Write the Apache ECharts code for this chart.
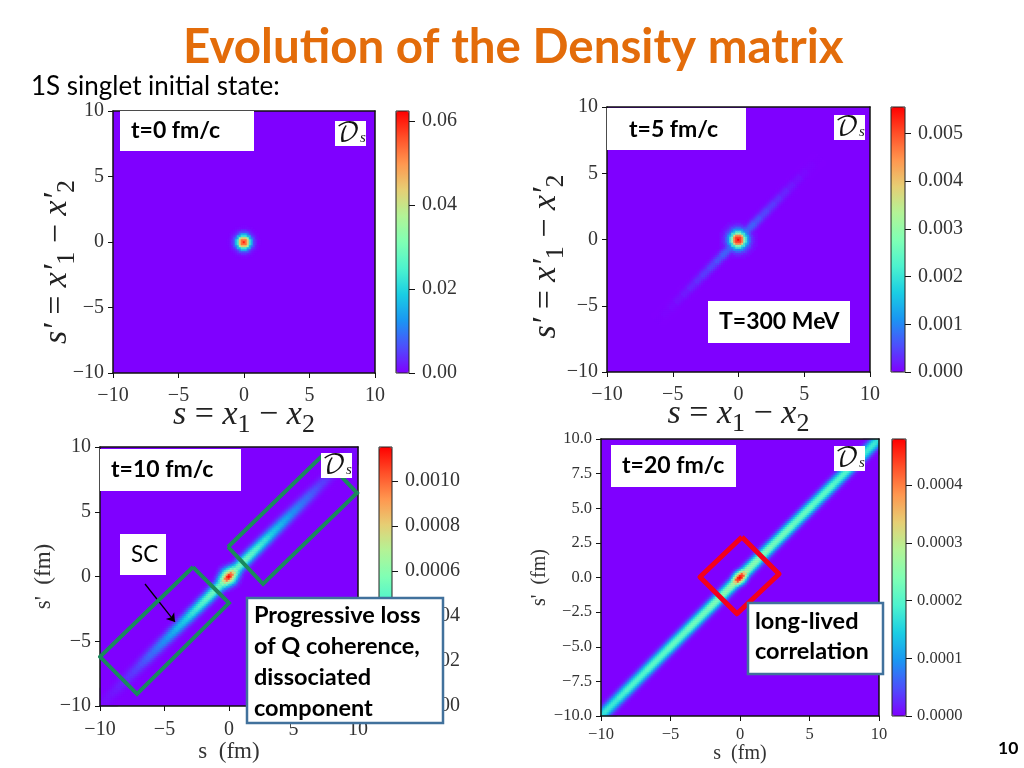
<!DOCTYPE html>
<html><head><meta charset="utf-8">
<style>html,body{margin:0;padding:0;background:#fff}#c{width:1024px;height:768px}</style>
<script src="https://cdn.jsdelivr.net/npm/echarts@6/dist/echarts.min.js"></script>
</head><body><div id="c"></div>
<script>
// ---- values ----
const rainbow = ['#8000ff','#4d4ffc','#1a96f2','#1acee3','#4df3ce','#80ffb4','#b3f396','#e6ce74','#ff964f','#ff4f28','#ff0000'];
const ticksA = [0,0.02,0.04,0.06];
const ticksB = [0,0.001,0.002,0.003,0.004,0.005];
const ticksC = [0,0.0002,0.0004,0.0006,0.0008,0.001];
const ticksD = [0,0.0001,0.0002,0.0003,0.0004];
const scaleMax = [0.0624,0.00555,0.00115,0.00048];
// radial profile of the central spot, one entry per 0.1 fm
const ringA = [.0600,.0585,.0535,.0440,.0330,.0230,.0155,.0100,.0056,.0031,.0016,.0006,.0002];
const ringB = [.00555,.00544,.00511,.00455,.00377,.00289,.00205,.00150,.00111,.00072,.00050,.00033,.00019,.00011,.00006];
// diagonal ridge height from |u|=0 outward
const ridgeB = [.0009,.00085,.00072,.0006,.0005,.00042,.00034,.00026,.00018,.00012,.00006,.00003,.00001,0,0,0,0,0,0,0,0];
const ridgeC = [.00050,.00051,.00052,.00053,.00053,.00053,.00052,.00050,.00048,.00046,.00044,.00042,.00039,.00036,.00034,.00032,.00030,.00028,.00026,.00024,.00022,.000205,.00019,.000175,.00016,.000145,.00013,.000115,.00010,.00009,.00008,.00007,.00006,.00005,.000045,.000037,.00003,.000025,.00002,.000015,.00001];
const ridgeD = [.00026,.00026,.00025,.00024,.00024,.00023,.00023,.00023,.00022,.00022,.00022,.00021,.00021,.00021,.00020,.00020,.00020,.00019,.00018,.00018,.00017];
// ridge fall-off, one entry per cell away from the diagonal
const acrossB = [1,.92,.7,.42,.2,.07,.02];
const acrossC = [1,.95,.8,.58,.36,.2,.09,.03,.01];
const acrossD = [1,.95,.8,.58,.36,.18,.07,.02];
// elongated centre: rows = cells along diagonal, columns = cells across it (fraction of the peak)
const coreC = [
 [1,.93,.75,.6,.47,.35,.25,.15,.08,.04,.02],
 [.88,.83,.68,.54,.42,.3,.2,.12,.06,.03,.01],
 [.68,.65,.55,.45,.34,.24,.15,.08,.04,.01,0],
 [.52,.5,.43,.35,.26,.17,.1,.05,.02,0,0],
 [.44,.42,.36,.28,.2,.12,.06,.02,0,0,0],
 [.42,.4,.33,.25,.16,.09,.04,.01,0,0,0],
 [.42,.39,.31,.22,.13,.06,.02,0,0,0,0]];
const coreD = [
 [1,.95,.75,.55,.38,.22,.1,.03],
 [.93,.88,.7,.5,.33,.18,.08,.02],
 [.72,.68,.55,.4,.25,.12,.05,.01],
 [.58,.55,.42,.28,.14,.06,.02,0],
 [.52,.49,.36,.2,.08,.03,0,0]];
const boxSC1 = [[-2.79,0.73],[0,-2.05],[-7.13,-9.07],[-10,-6.2],[-2.79,0.73]];
const boxSC2 = [[-0.08,2.28],[2.64,-0.58],[9.92,6.45],[7.2,9.3],[-0.08,2.28]];
const boxLong = [[0.14,2.92],[2.81,0.25],[-0.22,-2.62],[-2.88,0.04],[0.14,2.92]];
const arrowSC = [[-6.51,-0.58],[-4.19,-3.51]];

// ---- cell tables ----
function cells(N, ridge, across, ring, core, peak){
  const out=[], c=(N-1)/2, w=20/N;
  for(let i=0;i<N;i++)for(let j=0;j<N;j++){
    const a=Math.abs(i+j-2*c), k=Math.abs(i-j), m=Math.floor(a/2);
    let v=0;
    if(ridge && k<across.length){
      const idx=Math.round((a/2*w)/(10/(ridge.length-1)));
      if(idx<ridge.length) v=ridge[idx]*across[k];
    }
    if(ring){
      const r=Math.round(Math.hypot(i-c,j-c)*w/0.1);
      if(r<ring.length) v=Math.max(v,ring[r]);
    }
    if(core && m<core.length && k<core[m].length) v=Math.max(v,core[m][k]*peak);
    if(v>0) out.push([i,j,v]);
  }
  return out;
}
const dataA=cells(131,null,null,ringA,null,0);
const dataB=cells(131,ridgeB,acrossB,ringB,null,0);
const dataC=cells(129,ridgeC,acrossC,null,coreC,scaleMax[2]);
const dataD=cells(139,ridgeD,acrossD,null,coreD,scaleMax[3]);

const serif="'Liberation Serif',serif", sans="Lato,'Open Sans',sans-serif";
const mathRich=(f,b,lh)=>({
  i:{fontFamily:serif,fontStyle:'italic',fontSize:f,lineHeight:lh,verticalAlign:'top',color:'#222'},
  n:{fontFamily:serif,fontSize:f,lineHeight:lh,verticalAlign:'top',color:'#222'},
  b:{fontFamily:serif,fontSize:b,lineHeight:lh,verticalAlign:'bottom',color:'#222'}});
const nameMathX='{i|s}{n| = }{i|x}{b|1}{n| − }{i|x}{b|2}';
const nameMathY="{i|s′}{n| = }{i|x′}{b|1}{n| − }{i|x′}{b|2}";

const panels=[
 {g:[113,111,262,262],cb:[396,111,13,262],N:131,data:dataA,ticks:ticksA,dec:2,fs:20,xn:nameMathX,yn:nameMathY,math:true,xg:25,yg:33,yi:5,xm:13,cm:13,ypad:40},
 {g:[607,107,263,265],cb:[891,107,14,265],N:131,data:dataB,ticks:ticksB,dec:3,fs:20,xn:nameMathX,yn:nameMathY,math:true,xg:25,yg:38,yi:5,xm:13,cm:13,ypad:34},
 {g:[100,447,258,259],cb:[379,447,13,259],N:129,data:dataC,ticks:ticksC,dec:4,fs:20,xn:'s  (fm)',yn:"s'  (fm)",xg:32,yg:36,yi:5,nfs:23,xm:14,cm:13},
 {g:[601,439,278,277],cb:[892,439,14,277],N:139,data:dataD,ticks:ticksD,dec:4,fs:16.5,xn:'s  (fm)',yn:"s'  (fm)",xg:28,yg:42,yi:2.5,yd:1,nfs:20,xm:10,cm:11}
];
const grid=[],xAxis=[],yAxis=[],series=[],visualMap=[];
const minus=s=>String(s).replace('-','−');
const lab=(fs)=>({fontFamily:serif,fontSize:fs,color:'#333'});
panels.forEach((p,idx)=>{
  const base=grid.length, ax=xAxis.length;
  const cats=Array.from({length:p.N},(_,i)=>i);
  grid.push({left:p.g[0],top:p.g[1],width:p.g[2],height:p.g[3],show:true,backgroundColor:'#7f00ff',borderWidth:0});
  grid.push({left:p.cb[0],top:p.cb[1],width:p.cb[2],height:p.cb[3],show:false});
  const frame={show:true,onZero:false,lineStyle:{color:'#111',width:1.5}};
  // hidden band axes that carry the cells, drawn only as the top/right frame
  xAxis.push({gridIndex:base,type:'category',data:cats,position:'top',z:5,axisLine:frame,axisTick:{show:false},axisLabel:{show:false},splitLine:{show:false}});
  yAxis.push({gridIndex:base,type:'category',data:cats,position:'right',z:5,axisLine:frame,axisTick:{show:false},axisLabel:{show:false},splitLine:{show:false}});
  const nameStyleX=p.math?{rich:mathRich(34,26,40)}:{fontFamily:serif,fontSize:p.nfs,color:'#333'};
  const nameStyleY=p.math?{rich:mathRich(34,26,40),padding:[0,p.ypad,0,0]}:nameStyleX;
  xAxis.push({gridIndex:base,type:'value',min:-10,max:10,interval:5,position:'bottom',z:5,
    axisLine:frame,axisTick:{show:true,length:5,lineStyle:{color:'#111',width:1}},splitLine:{show:false},
    axisLabel:Object.assign(lab(p.fs),{margin:p.xm,formatter:v=>minus(v)}),
    name:p.xn,nameLocation:'middle',nameGap:p.xg,nameMoveOverlap:!p.math,nameTextStyle:nameStyleX});
  yAxis.push({gridIndex:base,type:'value',min:-10,max:10,interval:p.yi,position:'left',z:5,
    axisLine:frame,axisTick:{show:true,length:5,lineStyle:{color:'#111',width:1}},splitLine:{show:false},
    axisLabel:Object.assign(lab(p.fs),{margin:9,padding:[3,0,0,0],formatter:v=>minus(p.yd?v.toFixed(1):v)}),
    name:p.yn,nameLocation:'middle',nameGap:p.yg,nameMoveOverlap:!p.math,nameTextStyle:nameStyleY});
  xAxis.push({gridIndex:base+1,type:'value',min:0,max:1,show:false});
  yAxis.push({gridIndex:base+1,type:'value',min:0,max:scaleMax[idx],position:'right',z:6,
    axisLine:{show:false,onZero:false},splitLine:{show:false},
    axisTick:{show:true,length:6,lineStyle:{color:'#111',width:1},customValues:p.ticks},
    axisLabel:Object.assign(lab(p.fs),{margin:p.cm,customValues:p.ticks,formatter:v=>v.toFixed(p.dec)})});
  series.push({type:'heatmap',xAxisIndex:ax,yAxisIndex:ax,data:p.data,progressive:0,silent:true,z:2,emphasis:{disabled:true}});
  visualMap.push({type:'continuous',seriesIndex:series.length-1,min:0,max:scaleMax[idx],show:true,calculable:false,hoverLink:false,
    left:p.cb[0],top:p.cb[1],itemWidth:p.cb[2],itemHeight:p.cb[3],padding:0,text:null,inRange:{color:rainbow},dimension:2});
  p.ax=ax;
});
const outline=(pi,pts,color,w,join)=>({type:'line',xAxisIndex:panels[pi].ax+1,yAxisIndex:panels[pi].ax+1,data:pts,symbol:'none',silent:true,clip:false,z:8,
  lineStyle:{color:color,width:w,join:join}});
series.push(outline(2,boxSC1,'#1a8a5c',4,'miter'));
series.push(outline(2,boxSC2,'#1a8a5c',4,'miter'));
series.push(outline(3,boxLong,'#f4001c',5,'round'));
series.push({type:'line',xAxisIndex:panels[2].ax+1,yAxisIndex:panels[2].ax+1,data:[],symbol:'none',silent:true,z:9,
  markLine:{silent:true,symbol:['none','arrow'],symbolSize:8,label:{show:false},animation:false,lineStyle:{color:'#000',width:1.3,type:'solid'},
    data:[[{coord:arrowSC[0]},{coord:arrowSC[1]}]]}});

const box=(x,y,w,h,stroke)=>({type:'rect',z:60,silent:true,shape:{x:x,y:y,width:w,height:h},style:{fill:'#fff',stroke:stroke||null,lineWidth:stroke?2.5:0}});
const ds=(x,y)=>[box(x,y,31,25),{type:'text',z:61,x:x+1,y:y+12,silent:true,style:{
  rich:{d:{fontFamily:"'DejaVu Math TeX Gyre','DejaVu Sans',serif",fontSize:26,fill:'#111'},s:{fontFamily:serif,fontStyle:'italic',fontSize:15,fill:'#222',padding:[11,0,0,0]}},
  text:'{d|𝒟}{s|s}',textVerticalAlign:'middle'}}];
const TX=(x,y,text,fs,w,extra)=>({type:'text',z:61,x:x,y:y,silent:true,style:Object.assign({text:text,fontFamily:sans,fontSize:fs,fontWeight:w,fill:'#000',textVerticalAlign:'middle'},extra||{})});
const cbFrames=panels.map(p=>({type:'rect',z:7,silent:true,shape:{x:p.cb[0],y:p.cb[1],width:p.cb[2],height:p.cb[3]},style:{fill:null,stroke:'#222',lineWidth:1}}));
const graphic=[
 ...cbFrames,
 TX(183,48,'Evolution of the Density matrix',47.5,700,{fill:'#e36c0a'}),
 TX(31,87,'1S singlet initial state:',26,400),
 box(120,111,134,40),TX(131,131,'t=0 fm/c',23,700),...ds(335,121),
 box(607,108,139,42),TX(629,130,'t=5 fm/c',23,700),...ds(834,115),
 box(708,301,142,42),TX(719,322,'T=300 MeV',23,700),
 box(100,449,141,42),TX(111,470,'t=10 fm/c',23,700),...ds(321,453),
 box(120,534,46,41),TX(131,555,'SC',22.5,400),
 box(247,598,196,125,'#41719c'),
 TX(254,615,'Progressive loss',23.5,700),TX(254,646,'of Q coherence,',23.5,700),TX(254,677,'dissociated',23.5,700),TX(254,708,'component',23.5,700),
 box(611,445,125,42),TX(622,466,'t=20 fm/c',23,700),...ds(834,446),
 box(748,603,135,71,'#41719c'),TX(755,621,'long-lived',23.5,700),TX(755,651,'correlation',23.5,700),
 TX(998,748,'10',17.5,700)
];
const chart=echarts.init(document.getElementById('c'),null,{renderer:'canvas'});
chart.setOption({animation:false,backgroundColor:'#fff',tooltip:{show:false},grid,xAxis,yAxis,visualMap,series,graphic});
</script></body></html>
